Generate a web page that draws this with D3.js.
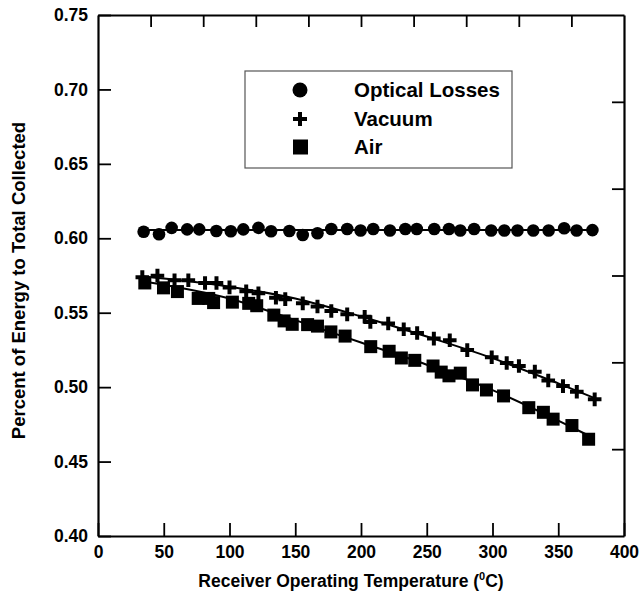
<!DOCTYPE html>
<html>
<head>
<meta charset="utf-8">
<script src="https://cdn.jsdelivr.net/npm/d3@7"></script>
<style>
  body { margin: 0; background: #fff; }
  svg text { font-family: "Liberation Sans", Arial, sans-serif; font-weight: bold; fill: #000; }
</style>
</head>
<body>
<svg></svg>
<script>
// optical losses (circles)
const opticalX = [34.7, 46.4, 56, 67.8, 77, 90, 101, 110.5, 122, 131.6, 145.5, 155.7, 166.9, 177.4, 189.5, 199.7,
  209.3, 222, 233.7, 242.4, 255.7, 266.9, 275.5, 286, 299, 309, 319, 331, 342.7, 354.5, 364, 376];
const opticalY = [0.6044, 0.6027, 0.607, 0.606, 0.606, 0.6049, 0.6047, 0.606, 0.607, 0.6047, 0.6049, 0.6022, 0.6034, 0.6062, 0.6062, 0.6052,
  0.6062, 0.6052, 0.6062, 0.6062, 0.6062, 0.6062, 0.6052, 0.6062, 0.6052, 0.6052, 0.6052, 0.6052, 0.6052, 0.6067, 0.6052, 0.6055];

// vacuum (plus)
const vacuumX = [33.7, 45.2, 58.2, 68.7, 81.4, 90.1, 100, 112.7, 122, 135.3, 142.4, 155.7, 166.9, 177.4, 189.5, 202.8,
  207.1, 220.7, 232.5, 242.7, 255.4, 267.5, 280.8, 299.4, 310.8, 320.1, 332.2, 342.4, 353.6, 364.1, 377.7];
const vacuumY = [0.5739, 0.5749, 0.5718, 0.5718, 0.57, 0.57, 0.567, 0.5644, 0.5631, 0.5601, 0.5591, 0.5563, 0.5542, 0.5512, 0.5489, 0.5473,
  0.5438, 0.5428, 0.5389, 0.5364, 0.5326, 0.5315, 0.5249, 0.5201, 0.5162, 0.5142, 0.5104, 0.5045, 0.5007, 0.4969, 0.4918];

// air (squares)
const airX = [35.6, 49.8, 60.4, 76.2, 84.2, 87.9, 102.2, 114.6, 120.7, 133.7, 141.5, 147.7, 159.4, 166.9, 177.1, 187.9,
  207.4, 221.4, 230.7, 240.9, 254.8, 261, 266.9, 275.5, 284.8, 295.4, 308.4, 327.6, 338.7, 346.1, 360.4, 373.1];
const airY = [0.57, 0.5667, 0.5642, 0.5596, 0.5596, 0.5568, 0.5571, 0.5563, 0.5547, 0.5484, 0.5445, 0.5422, 0.542, 0.541, 0.5371, 0.5343,
  0.5272, 0.5241, 0.5196, 0.518, 0.5142, 0.5101, 0.5076, 0.5094, 0.5015, 0.4981, 0.4941, 0.4862, 0.4831, 0.4785, 0.4742, 0.465];

// fitted curves
const opticalFitX = [34, 376];
const opticalFitY = [0.6055, 0.6055];
const vacuumFitX = [33, 100, 150, 200, 250, 300, 350, 378];
const vacuumFitY = [0.5745, 0.5675, 0.5595, 0.5475, 0.534, 0.5195, 0.5025, 0.4925];
const airFitX = [35, 100, 150, 200, 250, 300, 350, 373];
const airFitY = [0.571, 0.5595, 0.545, 0.53, 0.515, 0.498, 0.4775, 0.4675];

const xTicks = [0, 50, 100, 150, 200, 250, 300, 350, 400];
const yTicks = [0.40, 0.45, 0.50, 0.55, 0.60, 0.65, 0.70, 0.75];
const legendLabels = ["Optical Losses", "Vacuum", "Air"];

const margin = { top: 15, left: 98, right: 15, bottom: 61 };
const W = 639, H = 597;
const width = W - margin.left - margin.right;
const height = H - margin.top - margin.bottom;

const svg = d3.select("svg").attr("width", W).attr("height", H);
const g = svg.append("g").attr("transform", `translate(${margin.left},${margin.top})`);

const x = d3.scaleLinear().domain([0, 400]).range([0, width]);
const y = d3.scaleLinear().domain([0.40, 0.75]).range([height, 0]);
// unlabelled secondary axes on top and right
const xTop = d3.scaleLinear().domain([0, 10]).range([0, width]);
const yRight = d3.scaleLinear().domain([0, 6]).range([height, 0]);

const styleAxis = (sel) => {
  sel.selectAll("path.domain").attr("stroke", "#000").attr("stroke-width", 2.2);
  sel.selectAll(".tick line").attr("stroke", "#000").attr("stroke-width", 1.8);
};

// bottom
g.append("g")
  .attr("transform", `translate(0,${height})`)
  .call(d3.axisBottom(x).tickValues(xTicks).tickFormat(d3.format("d")).tickSizeInner(-13).tickSizeOuter(0).tickPadding(10))
  .call(styleAxis)
  .call(s => s.selectAll("text").attr("font-size", 17.5).attr("font-family", "Liberation Sans, Arial").attr("font-weight", "bold"));

// left
g.append("g")
  .call(d3.axisLeft(y).tickValues(yTicks).tickFormat(d3.format(".2f")).tickSizeInner(-13).tickSizeOuter(0).tickPadding(10))
  .call(styleAxis)
  .call(s => s.selectAll("text").attr("font-size", 17.5).attr("font-family", "Liberation Sans, Arial").attr("font-weight", "bold"));

// top (ticks only)
g.append("g")
  .call(d3.axisBottom(xTop).tickValues(d3.range(1, 10)).tickFormat("").tickSizeInner(12).tickSizeOuter(0))
  .call(styleAxis);

// right (ticks only)
g.append("g")
  .attr("transform", `translate(${width},0)`)
  .call(d3.axisLeft(yRight).tickValues(d3.range(1, 6)).tickFormat("").tickSizeInner(12).tickSizeOuter(0))
  .call(styleAxis);

// fit lines
const fitLine = d3.line().x(d => x(d[0])).y(d => y(d[1])).curve(d3.curveMonotoneX);
[[opticalFitX, opticalFitY], [vacuumFitX, vacuumFitY], [airFitX, airFitY]].forEach(([xs, ys]) => {
  g.append("path")
    .datum(d3.zip(xs, ys))
    .attr("d", fitLine)
    .attr("fill", "none")
    .attr("stroke", "#000")
    .attr("stroke-width", 2);
});

// markers
const plus = (s) => `M${-s},0H${s}M0,${-s}V${s}`;

g.append("g").selectAll("circle")
  .data(d3.zip(opticalX, opticalY))
  .join("circle")
  .attr("cx", d => x(d[0]))
  .attr("cy", d => y(d[1]))
  .attr("r", 6.3)
  .attr("fill", "#000");

g.append("g").selectAll("path")
  .data(d3.zip(vacuumX, vacuumY))
  .join("path")
  .attr("transform", d => `translate(${x(d[0])},${y(d[1])})`)
  .attr("d", plus(6.8))
  .attr("stroke", "#000")
  .attr("stroke-width", 4);

g.append("g").selectAll("rect")
  .data(d3.zip(airX, airY))
  .join("rect")
  .attr("x", d => x(d[0]) - 6.5)
  .attr("y", d => y(d[1]) - 6.5)
  .attr("width", 13)
  .attr("height", 13)
  .attr("fill", "#000");

// axis titles
const xTitle = svg.append("text")
  .attr("x", margin.left + width / 2 - 10)
  .attr("y", 587)
  .attr("text-anchor", "middle")
  .attr("font-size", 17.5);
xTitle.append("tspan").text("Receiver Operating Temperature (");
xTitle.append("tspan").attr("font-size", 11).attr("dy", -7).text("0");
xTitle.append("tspan").attr("dy", 7).text("C)");

svg.append("text")
  .attr("transform", `translate(25,${margin.top + height / 2 + 5}) rotate(-90)`)
  .attr("text-anchor", "middle")
  .attr("font-size", 18.5)
  .text("Percent of Energy to Total Collected");

// legend
const legend = svg.append("g").attr("transform", "translate(245,71)");
legend.append("rect")
  .attr("width", 267).attr("height", 97)
  .attr("fill", "#fff").attr("stroke", "#555").attr("stroke-width", 1.2);

const rowY = [19, 48, 76];
legend.append("circle").attr("cx", 55).attr("cy", rowY[0]).attr("r", 7.5).attr("fill", "#000");
legend.append("path").attr("transform", `translate(55,${rowY[1]})`).attr("d", plus(7))
  .attr("stroke", "#000").attr("stroke-width", 4);
legend.append("rect").attr("x", 48).attr("y", rowY[2] - 7.5).attr("width", 15).attr("height", 15).attr("fill", "#000");

legend.selectAll("text.lab")
  .data(legendLabels)
  .join("text")
  .attr("class", "lab")
  .attr("x", 109)
  .attr("y", (d, i) => rowY[i])
  .attr("dy", "0.36em")
  .attr("font-size", 20.5)
  .text(d => d);
</script>
</body>
</html>
